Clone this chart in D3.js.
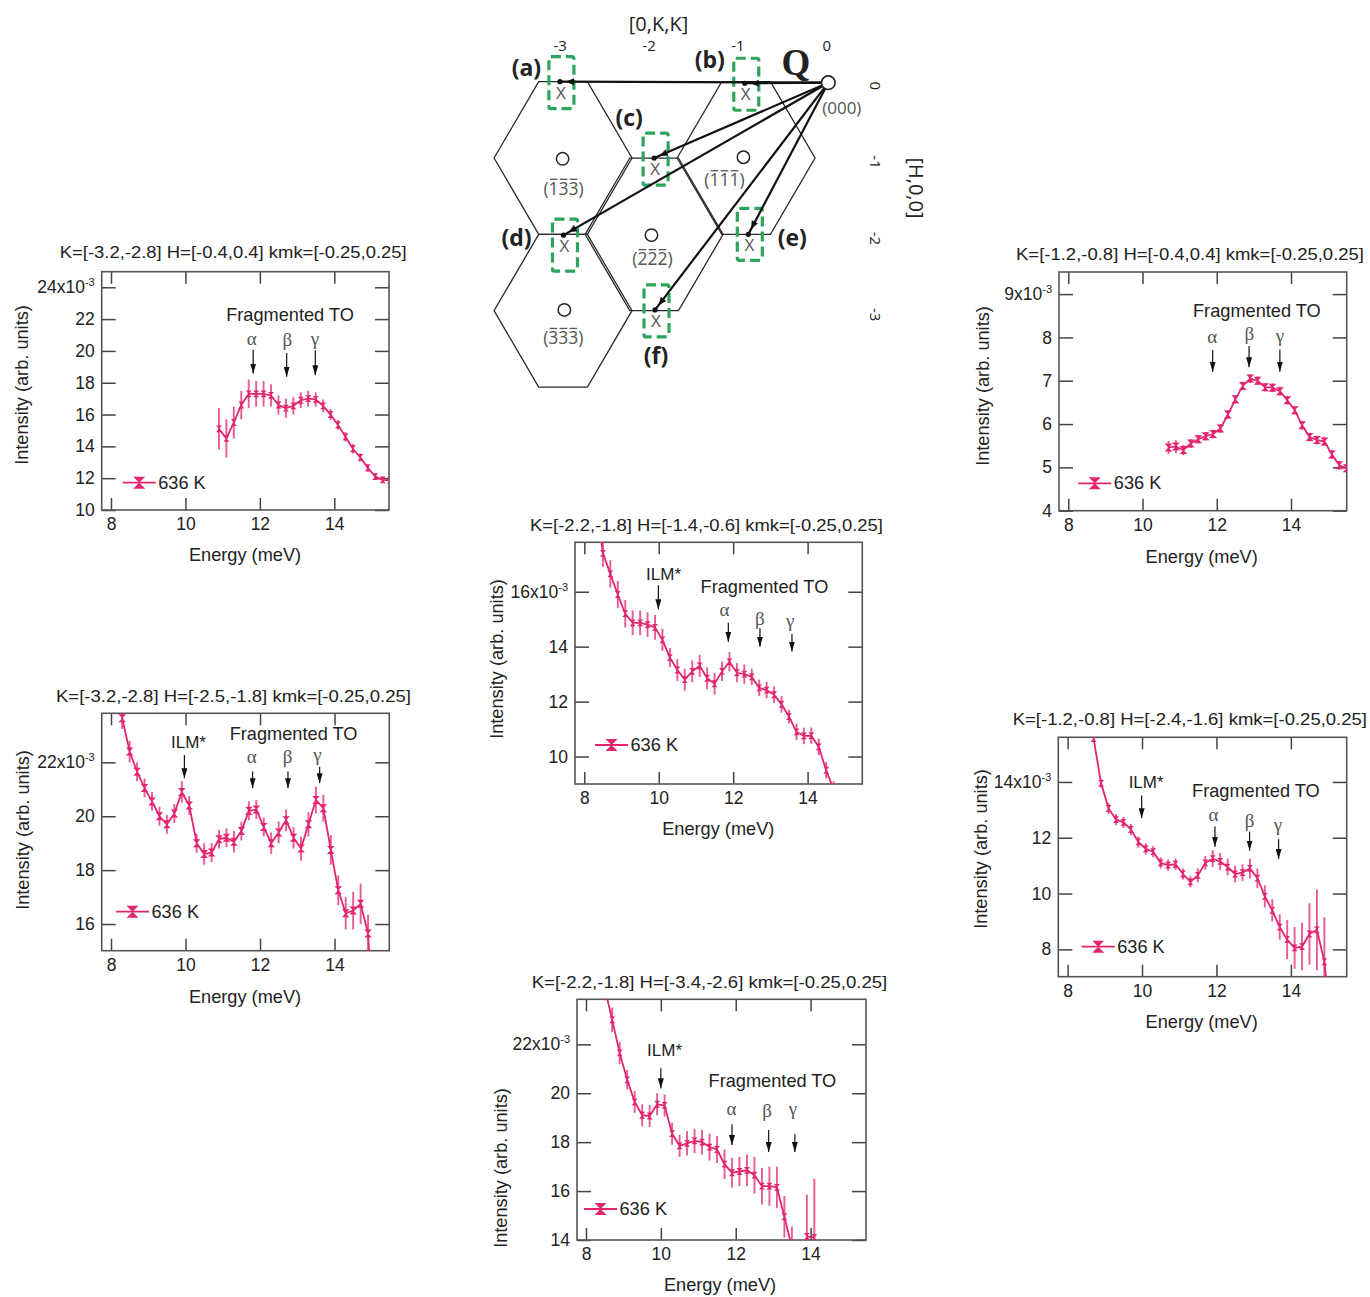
<!DOCTYPE html>
<html>
<head>
<meta charset="utf-8">
<script src="https://cdn.jsdelivr.net/npm/d3@7"></script>
<style>
  body { margin: 0; background: #fff; }
  svg { display: block; font-family: "Liberation Sans", Arial, sans-serif; }
  .tick line { stroke: #444; stroke-width: 1.5; }
  .tick text { fill: #222; font-size: 17.5px; }
  .domain { display: none; }
</style>
</head>
<body>
<div id="chart"></div>
<script>
// values, one set per panel (a)-(f)
const energyA = [10.9, 11.1, 11.3, 11.5, 11.7, 11.9, 12.1, 12.3, 12.5, 12.7, 12.9, 13.1, 13.3, 13.5, 13.7, 13.9, 14.1, 14.3, 14.5, 14.7, 14.9, 15.1, 15.3, 15.5];
const intensityA = [15.1, 14.5, 15.5, 16.6, 17.3, 17.3, 17.3, 17.2, 16.6, 16.4, 16.55, 16.9, 17.0, 16.95, 16.55, 16.0, 15.35, 14.6, 13.85, 13.3, 12.65, 12.1, 11.9, 11.85];
const errorA = [1.3, 1.2, 1.0, 0.9, 0.9, 0.8, 0.8, 0.7, 0.6, 0.6, 0.55, 0.5, 0.5, 0.45, 0.4, 0.35, 0.3, 0.3, 0.3, 0.25, 0.25, 0.2, 0.2, 0.2];

const energyB = [10.7, 10.9, 11.1, 11.3, 11.5, 11.7, 11.9, 12.1, 12.3, 12.5, 12.7, 12.9, 13.1, 13.3, 13.5, 13.7, 13.9, 14.1, 14.3, 14.5, 14.7, 14.9, 15.1, 15.3, 15.5];
const intensityB = [5.46, 5.48, 5.4, 5.55, 5.65, 5.72, 5.77, 5.9, 6.22, 6.57, 6.88, 7.05, 7.0, 6.85, 6.84, 6.76, 6.55, 6.32, 5.97, 5.7, 5.63, 5.6, 5.3, 5.05, 4.98];
const errorB = [0.15, 0.15, 0.12, 0.1, 0.1, 0.1, 0.1, 0.1, 0.1, 0.1, 0.1, 0.1, 0.1, 0.1, 0.1, 0.1, 0.1, 0.1, 0.1, 0.1, 0.1, 0.1, 0.1, 0.1, 0.1];

const energyC = [8.3, 8.5, 8.7, 8.9, 9.1, 9.3, 9.5, 9.7, 9.9, 10.1, 10.3, 10.5, 10.7, 10.9, 11.1, 11.3, 11.5, 11.7, 11.9, 12.1, 12.3, 12.5, 12.7, 12.9, 13.1, 13.3, 13.5, 13.7, 13.9, 14.1, 14.3, 14.5, 14.7];
const intensityC = [19.5, 17.4, 16.65, 15.9, 15.2, 14.87, 14.87, 14.8, 14.7, 14.25, 13.6, 13.15, 12.8, 13.1, 13.3, 12.85, 12.65, 13.1, 13.45, 13.05, 13.0, 12.9, 12.5, 12.42, 12.25, 11.9, 11.45, 10.9, 10.75, 10.76, 10.35, 9.5, 8.8];
const errorC = [0.5, 0.5, 0.5, 0.5, 0.5, 0.45, 0.45, 0.45, 0.45, 0.4, 0.35, 0.4, 0.4, 0.4, 0.4, 0.4, 0.4, 0.35, 0.35, 0.35, 0.35, 0.3, 0.3, 0.3, 0.3, 0.3, 0.25, 0.3, 0.3, 0.3, 0.3, 0.3, 0.3];

const energyD = [8.3, 8.5, 8.7, 8.9, 9.1, 9.3, 9.5, 9.7, 9.9, 10.1, 10.3, 10.5, 10.7, 10.9, 11.1, 11.3, 11.5, 11.7, 11.9, 12.1, 12.3, 12.5, 12.7, 12.9, 13.1, 13.3, 13.5, 13.7, 13.9, 14.1, 14.3, 14.5, 14.7, 14.9, 15.1];
const intensityD = [23.64, 22.4, 21.65, 21.05, 20.55, 20.0, 19.7, 20.1, 20.9, 20.4, 19.0, 18.6, 18.65, 19.15, 19.2, 19.05, 19.45, 20.2, 20.25, 19.6, 19.0, 19.4, 19.85, 19.2, 18.8, 19.7, 20.6, 20.3, 18.75, 17.25, 16.4, 16.5, 16.75, 15.65, 10.7];
const errorD = [0.4, 0.4, 0.35, 0.35, 0.35, 0.35, 0.35, 0.35, 0.4, 0.35, 0.35, 0.4, 0.35, 0.35, 0.35, 0.4, 0.35, 0.35, 0.35, 0.35, 0.4, 0.4, 0.4, 0.4, 0.45, 0.45, 0.5, 0.5, 0.55, 0.55, 0.6, 0.7, 0.75, 0.7, 0.7];

const energyE = [8.7, 8.9, 9.1, 9.3, 9.5, 9.7, 9.9, 10.1, 10.3, 10.5, 10.7, 10.9, 11.1, 11.3, 11.5, 11.7, 11.9, 12.1, 12.3, 12.5, 12.7, 12.9, 13.1, 13.3, 13.5, 13.7, 13.9, 14.1, 14.3, 14.5, 14.7, 14.9, 15.1];
const intensityE = [15.55, 13.95, 13.05, 12.65, 12.55, 12.3, 11.85, 11.6, 11.5, 11.1, 11.02, 11.05, 10.7, 10.42, 10.65, 11.1, 11.25, 11.15, 10.95, 10.7, 10.75, 10.9, 10.55, 9.9, 9.4, 8.8, 8.35, 8.05, 8.1, 8.55, 8.7, 7.55, 5.0];
const errorE = [0.1, 0.15, 0.2, 0.2, 0.2, 0.2, 0.2, 0.2, 0.2, 0.2, 0.2, 0.2, 0.2, 0.2, 0.25, 0.25, 0.3, 0.3, 0.3, 0.3, 0.3, 0.35, 0.35, 0.4, 0.4, 0.45, 0.7, 0.75, 0.85, 1.1, 1.45, 1.6, 1.6];

// 13.7 meV sits below the axis, so the line breaks there
const energyF = [8.5, 8.7, 8.9, 9.1, 9.3, 9.5, 9.7, 9.9, 10.1, 10.3, 10.5, 10.7, 10.9, 11.1, 11.3, 11.5, 11.7, 11.9, 12.1, 12.3, 12.5, 12.7, 12.9, 13.1, 13.3, 13.5, 13.7, 13.9, 14.1];
const intensityF = [24.3, 23.0, 21.65, 20.55, 19.65, 19.1, 19.07, 19.55, 19.5, 18.35, 17.85, 17.95, 18.05, 18.0, 17.8, 17.7, 17.1, 16.75, 16.8, 16.85, 16.65, 16.2, 16.2, 16.15, 14.95, 13.7, null, 14.15, 14.1];
const errorF = [0.5, 0.5, 0.45, 0.4, 0.45, 0.45, 0.45, 0.45, 0.45, 0.45, 0.45, 0.5, 0.5, 0.5, 0.55, 0.55, 0.6, 0.6, 0.6, 0.65, 0.75, 0.75, 0.8, 0.85, 0.85, 0.85, 0, 1.7, 2.4];

const xTicks = [8, 10, 12, 14];
const yTicksA = [10, 12, 14, 16, 18, 20, 22, 24];
const yTicksB = [4, 5, 6, 7, 8, 9];
const yTicksC = [10, 12, 14, 16];
const yTicksD = [16, 18, 20, 22];
const yTicksE = [8, 10, 12, 14];
const yTicksF = [14, 16, 18, 20, 22];

const titleA = "K=[-3.2,-2.8] H=[-0.4,0.4] kmk=[-0.25,0.25]";
const titleB = "K=[-1.2,-0.8] H=[-0.4,0.4] kmk=[-0.25,0.25]";
const titleC = "K=[-2.2,-1.8] H=[-1.4,-0.6] kmk=[-0.25,0.25]";
const titleD = "K=[-3.2,-2.8] H=[-2.5,-1.8] kmk=[-0.25,0.25]";
const titleE = "K=[-1.2,-0.8] H=[-2.4,-1.6] kmk=[-0.25,0.25]";
const titleF = "K=[-2.2,-1.8] H=[-3.4,-2.6] kmk=[-0.25,0.25]";

const PINK = "#e3246f";
const GREEK = { alpha: "\u03b1", beta: "\u03b2", gamma: "\u03b3" };

const svg = d3.select("#chart").append("svg").attr("width", 1370).attr("height", 1297);

svg.append("defs").append("marker")
  .attr("id", "arrowHead")
  .attr("markerUnits", "userSpaceOnUse")
  .attr("viewBox", "0 0 10 6")
  .attr("refX", 10).attr("refY", 3)
  .attr("markerWidth", 10).attr("markerHeight", 6)
  .attr("orient", "auto")
  .append("path").attr("d", "M0,0L10,3L0,6Z").attr("fill", "#111");

// hourglass marker, same as in the legend of the original plots
function hourglass(w, h) {
  return {
    draw(ctx) {
      ctx.moveTo(-w, -h);
      ctx.lineTo(w, -h);
      ctx.lineTo(-w, h);
      ctx.lineTo(w, h);
      ctx.closePath();
    }
  };
}

// frame = left, right, top, bottom; notes are placed in data units
const panels = [
  {
    id: "a", title: titleA, titleBox: [59.7, 347, 258],
    energy: energyA, intensity: intensityA, error: errorA, yTicks: yTicksA,
    frame: [101.7, 389, 271.7, 510], xDom: [7.75, 15.47], yDom: [10, 24.98],
    xLabel: [245, 560.5], yLabel: [28, 385], legend: [122.7, 482.7], mark: [3, 3.4],
    frag: [12.81, 21.86],
    arrows: [["alpha", 11.78, 20.36, 11.82, 20.08, 18.58], ["beta", 12.74, 20.28, 12.72, 19.87, 18.37], ["gamma", 13.48, 20.4, 13.49, 20.04, 18.47]]
  },
  {
    id: "d", title: titleD, titleBox: [56, 355, 701.7],
    energy: energyD, intensity: intensityD, error: errorD, yTicks: yTicksD,
    frame: [101.7, 389.3, 713.3, 950.7], xDom: [7.75, 15.47], yDom: [15.01, 23.82],
    xLabel: [245, 1002.5], yLabel: [29, 830], legend: [116, 911.7], mark: [3.8, 4],
    ilm: [10.08, 22.52, 9.97, 22.27, 21.41], frag: [12.9, 22.83],
    arrows: [["alpha", 11.78, 21.97, 11.8, 21.66, 21.04], ["beta", 12.74, 21.97, 12.75, 21.66, 21.04], ["gamma", 13.54, 22.05, 13.6, 21.84, 21.22]]
  },
  {
    id: "c", title: titleC, titleBox: [530, 353, 530.7],
    energy: energyC, intensity: intensityC, error: errorC, yTicks: yTicksC,
    frame: [575, 862.3, 542.3, 784], xDom: [7.75, 15.47], yDom: [9.0, 17.8],
    xLabel: [718.3, 834.5], yLabel: [503, 659], legend: [595, 745], mark: [3, 3.4],
    ilm: [10.13, 16.42, 9.99, 16.24, 15.36], frag: [12.84, 15.94],
    arrows: [["alpha", 11.77, 15.12, 11.87, 14.87, 14.18], ["beta", 12.72, 14.79, 12.72, 14.67, 14.0], ["gamma", 13.53, 14.7, 13.58, 14.46, 13.82]]
  },
  {
    id: "f", title: titleF, titleBox: [531.7, 355.6, 987.7],
    energy: energyF, intensity: intensityF, error: errorF, yTicks: yTicksF,
    frame: [577, 866, 999.3, 1240], xDom: [7.76, 15.48], yDom: [14, 23.84],
    xLabel: [720, 1291], yLabel: [507, 1168], legend: [584, 1209], mark: [3, 3.4],
    ilm: [10.1, 21.53, 10.0, 21.02, 20.2], frag: [12.98, 20.27],
    arrows: [["alpha", 11.89, 19.1, 11.9, 18.73, 17.88], ["beta", 12.84, 19.04, 12.88, 18.5, 17.6], ["gamma", 13.53, 19.1, 13.58, 18.32, 17.6]]
  },
  {
    id: "b", title: titleB, titleBox: [1016, 348, 260],
    energy: energyB, intensity: intensityB, error: errorB, yTicks: yTicksB,
    frame: [1059, 1346.7, 272, 510.7], xDom: [7.75, 15.5], yDom: [4, 9.51],
    xLabel: [1201.7, 562.5], yLabel: [988.5, 386], legend: [1078.3, 483.3], mark: [4, 4],
    frag: [13.08, 8.46],
    arrows: [["alpha", 11.88, 7.86, 11.89, 7.71, 7.21], ["beta", 12.88, 7.94, 12.87, 7.8, 7.31], ["gamma", 13.7, 7.9, 13.7, 7.72, 7.21]]
  },
  {
    id: "e", title: titleE, titleBox: [1012.7, 354.3, 725],
    energy: energyE, intensity: intensityE, error: errorE, yTicks: yTicksE,
    frame: [1058.3, 1346.7, 737.3, 976.7], xDom: [7.75, 15.5], yDom: [7.02, 15.6],
    xLabel: [1201.7, 1027.5], yLabel: [987, 849], legend: [1081.7, 946.7], mark: [3, 3.4],
    ilm: [10.11, 13.79, 9.99, 13.51, 12.7], frag: [13.06, 13.47],
    arrows: [["alpha", 11.92, 12.6, 11.96, 12.4, 11.68], ["beta", 12.89, 12.4, 12.89, 12.22, 11.54], ["gamma", 13.65, 12.24, 13.67, 11.95, 11.24]]
  }
];

function drawPanel(p) {
  const [left, right, top, bottom] = p.frame;
  const x = d3.scaleLinear().domain(p.xDom).range([left, right]);
  const y = d3.scaleLinear().domain(p.yDom).range([bottom, top]);
  const g = svg.append("g").attr("class", "panel-" + p.id);

  g.append("text")
    .attr("x", p.titleBox[0]).attr("y", p.titleBox[2])
    .attr("textLength", p.titleBox[1]).attr("lengthAdjust", "spacingAndGlyphs")
    .attr("font-size", 17).attr("fill", "#222")
    .text(p.title);

  // ticks point inward on all four sides
  g.append("g").attr("transform", `translate(0,${bottom})`)
    .call(d3.axisBottom(x).tickValues(xTicks).tickSize(-12).tickPadding(8));
  g.append("g").attr("transform", `translate(0,${top})`)
    .call(d3.axisTop(x).tickValues(xTicks).tickSize(-12).tickFormat(""));
  g.append("g").attr("transform", `translate(${right},0)`)
    .call(d3.axisRight(y).tickValues(p.yTicks).tickSize(-14).tickFormat(""));

  const yMax = d3.max(p.yTicks);
  const yAxis = g.append("g").attr("transform", `translate(${left},0)`)
    .call(d3.axisLeft(y).tickValues(p.yTicks).tickSize(-14).tickPadding(7).tickFormat(d => d));
  // the top label carries the common factor
  const topLabel = yAxis.selectAll(".tick text").filter(d => d === yMax);
  topLabel.text(yMax + "x10");
  topLabel.append("tspan").attr("dy", -7).attr("font-size", 11).text("-3");

  g.append("rect")
    .attr("x", left).attr("y", top)
    .attr("width", right - left).attr("height", bottom - top)
    .attr("fill", "none").attr("stroke", "#555").attr("stroke-width", 1.6);

  g.append("text")
    .attr("x", p.xLabel[0]).attr("y", p.xLabel[1])
    .attr("text-anchor", "middle").attr("font-size", 18.2).attr("fill", "#222")
    .text("Energy (meV)");
  g.append("text")
    .attr("transform", `translate(${p.yLabel[0]},${p.yLabel[1]}) rotate(-90)`)
    .attr("text-anchor", "middle").attr("font-size", 18.2).attr("fill", "#222")
    .text("Intensity (arb. units)");

  // data clipped to the frame
  const clipId = "clip-" + p.id;
  g.append("clipPath").attr("id", clipId).append("rect")
    .attr("x", left).attr("y", top)
    .attr("width", right - left).attr("height", bottom - top);
  const marks = g.append("g").attr("clip-path", `url(#${clipId})`);

  const rows = p.energy.map((e, i) => ({ e: e, v: p.intensity[i], err: p.error[i] }));
  const shown = rows.filter(d => d.v !== null);

  marks.selectAll(".err").data(shown).join("line")
    .attr("class", "err")
    .attr("x1", d => x(d.e)).attr("x2", d => x(d.e))
    .attr("y1", d => y(d.v - d.err)).attr("y2", d => y(d.v + d.err))
    .attr("stroke", PINK).attr("stroke-width", 1.9).attr("opacity", 0.75);

  const line = d3.line().defined(d => d.v !== null).x(d => x(d.e)).y(d => y(d.v));
  marks.append("path").attr("d", line(rows))
    .attr("fill", "none").attr("stroke", PINK).attr("stroke-width", 1.8);

  const sym = d3.symbol().type(hourglass(p.mark[0], p.mark[1]))();
  marks.selectAll(".pt").data(shown).join("path")
    .attr("class", "pt").attr("d", sym)
    .attr("transform", d => `translate(${x(d.e)},${y(d.v)})`)
    .attr("fill", PINK);

  // legend
  const [lx, ly] = p.legend;
  g.append("line")
    .attr("x1", lx).attr("x2", lx + 33).attr("y1", ly).attr("y2", ly)
    .attr("stroke", PINK).attr("stroke-width", 1.8);
  g.append("path").attr("d", d3.symbol().type(hourglass(6, 6))())
    .attr("transform", `translate(${lx + 16.5},${ly})`).attr("fill", PINK);
  g.append("text")
    .attr("x", lx + 35.5).attr("y", ly + 6)
    .attr("font-size", 18.2).attr("fill", "#222")
    .text("636 K");

  // annotations
  g.append("text")
    .attr("x", x(p.frag[0])).attr("y", y(p.frag[1]))
    .attr("text-anchor", "middle").attr("font-size", 18.2).attr("fill", "#222")
    .text("Fragmented TO");

  function arrow(ex, v0, v1) {
    g.append("line")
      .attr("x1", x(ex)).attr("x2", x(ex)).attr("y1", y(v0)).attr("y2", y(v1))
      .attr("stroke", "#111").attr("stroke-width", 1.2)
      .attr("marker-end", "url(#arrowHead)");
  }
  if (p.ilm) {
    g.append("text")
      .attr("x", x(p.ilm[0])).attr("y", y(p.ilm[1]))
      .attr("text-anchor", "middle").attr("font-size", 17).attr("fill", "#222")
      .text("ILM*");
    arrow(p.ilm[2], p.ilm[3], p.ilm[4]);
  }
  p.arrows.forEach(a => {
    g.append("text")
      .attr("x", x(a[1])).attr("y", y(a[2]))
      .attr("text-anchor", "middle")
      .attr("font-family", "'Liberation Serif', serif").attr("font-size", 19).attr("fill", "#555")
      .text(GREEK[a[0]]);
    arrow(a[3], a[4], a[5]);
  });
}

panels.forEach(drawPanel);

// ---- zone diagram at the top, drawn in (K,H) through its own scales
const kScale = d3.scaleLinear().domain([-3, 0]).range([561.7, 828.3]);
const hScale = d3.scaleLinear().domain([0, -3]).range([81.7, 310.7]);

const zoneK = [-2.985, -1.96, -0.925, -2.985];
const zoneH = [-1, -2, -1, -3];
const HEX_K = [-0.776, -0.274, 0.274, 0.776, 0.274, -0.274];
const HEX_H = [0, 1, 1, 0, -1, -1];

const gammaK = [-2.99, -0.955, -1.99, -2.97];
const gammaH = [-1.01, -0.99, -2.01, -2.99];
const gammaLabels = ["(133)", "(111)", "(222)", "(333)"];
const gammaLabelDx = [0, -20, 0, -2];
const gammaLabelDy = [36, 29, 30, 34];

const spotNames = ["(a)", "(b)", "(c)", "(d)", "(e)", "(f)"];
const spotK = [-3.02, -0.94, -1.96, -2.98, -0.9, -1.95];
const spotH = [0, -0.02, -1.0, -2.01, -2.0, -2.99];
const boxDy = [0, 0, 0, 9, -1, 0];
const kTickValues = [-3, -2, -1, 0];
const hTickValues = [0, -1, -2, -3];

const diagram = svg.append("g").attr("font-family", "'Open Sans', sans-serif");

zoneK.forEach((k, i) => {
  const pts = HEX_K.map((dk, j) => [kScale(k + dk), hScale(zoneH[i] + HEX_H[j])]);
  diagram.append("path")
    .attr("d", d3.line()(pts) + "Z")
    .attr("fill", "none").attr("stroke", "#2a2a2a").attr("stroke-width", 1.3);
});

// green dashed boxes around the measured spots
spotK.forEach((k, i) => {
  const cx = kScale(k), cy = hScale(spotH[i]);
  diagram.append("rect")
    .attr("x", cx - 11).attr("y", cy - 25 + boxDy[i])
    .attr("width", 25).attr("height", 52).attr("rx", 2)
    .attr("fill", "none").attr("stroke", "#2ea35c").attr("stroke-width", 3.2)
    .attr("stroke-dasharray", "10 5");
  diagram.append("text")
    .attr("x", cx + 1).attr("y", cy + 17)
    .attr("text-anchor", "middle").attr("font-size", 17).attr("fill", "#555")
    .text("X");
});

// Q vectors from the origin
const ox = kScale(0), oy = hScale(0) + 1;
spotK.forEach((k, i) => {
  const tx = kScale(k), ty = hScale(spotH[i]);
  const len = Math.hypot(tx - ox, ty - oy);
  const ux = (tx - ox) / len, uy = (ty - oy) / len;
  diagram.append("line")
    .attr("x1", ox).attr("y1", oy).attr("x2", tx).attr("y2", ty)
    .attr("stroke", "#111").attr("stroke-width", 2.2);
  diagram.append("circle").attr("cx", tx).attr("cy", ty).attr("r", 2.6).attr("fill", "#111");
  // small head a bit before the end of the vector
  const hx = tx - ux * 6, hy = ty - uy * 6;
  diagram.append("path")
    .attr("d", `M${hx},${hy}L${hx - ux * 8 - uy * 3.5},${hy - uy * 8 + ux * 3.5}L${hx - ux * 8 + uy * 3.5},${hy - uy * 8 - ux * 3.5}Z`)
    .attr("fill", "#111");
});

diagram.selectAll(".gamma").data(gammaK).join("circle")
  .attr("class", "gamma")
  .attr("cx", d => kScale(d)).attr("cy", (d, i) => hScale(gammaH[i]))
  .attr("r", 6.2)
  .attr("fill", "#fff").attr("stroke", "#222").attr("stroke-width", 1.5);
diagram.selectAll(".gammaLabel").data(gammaLabels).join("text")
  .attr("class", "gammaLabel")
  .attr("x", (d, i) => kScale(gammaK[i]) + 1 + gammaLabelDx[i])
  .attr("y", (d, i) => hScale(gammaH[i]) + gammaLabelDy[i])
  .attr("text-anchor", "middle").attr("font-size", 17.5).attr("fill", "#555")
  .text(d => d)
  .each(function (d, i) {
    // a bar over each digit, measured from the rendered text
    const baseline = hScale(gammaH[i]) + gammaLabelDy[i];
    for (let c = 1; c <= 3; c++) {
      const box = this.getExtentOfChar(c);
      diagram.append("line")
        .attr("x1", box.x + 1.2).attr("x2", box.x + box.width - 1.2)
        .attr("y1", baseline - 15.5).attr("y2", baseline - 15.5)
        .attr("stroke", "#555").attr("stroke-width", 1.3);
    }
  });

diagram.append("circle")
  .attr("cx", ox).attr("cy", oy).attr("r", 6.8)
  .attr("fill", "#fff").attr("stroke", "#222").attr("stroke-width", 1.6);
diagram.append("text")
  .attr("x", ox + 13.5).attr("y", 114)
  .attr("text-anchor", "middle").attr("font-size", 17).attr("fill", "#555")
  .text("(000)");

// panel letters sit next to their spots
const letterDx = [-33.5, -35, -25, -47, 44, 1];
const letterDy = [-6, -15, -32, 11, 12, 54];
spotNames.forEach((name, i) => {
  diagram.append("text")
    .attr("x", kScale(spotK[i]) + letterDx[i]).attr("y", hScale(spotH[i]) + letterDy[i])
    .attr("text-anchor", "middle").attr("font-size", 23).attr("font-weight", "bold").attr("fill", "#222")
    .text(name);
});

diagram.append("text")
  .attr("x", 796).attr("y", 75)
  .attr("text-anchor", "middle")
  .attr("font-family", "'Liberation Serif', serif").attr("font-weight", "bold").attr("font-size", 37).attr("fill", "#222")
  .text("Q");

diagram.append("text")
  .attr("x", 658.5).attr("y", 31)
  .attr("text-anchor", "middle").attr("font-size", 20).attr("fill", "#222")
  .text("[0,K,K]");
diagram.selectAll(".kTick").data(kTickValues).join("text")
  .attr("class", "kTick")
  .attr("x", d => kScale(d) - 1.5).attr("y", 50.5)
  .attr("text-anchor", "middle").attr("font-size", 15).attr("fill", "#222")
  .text(d => d);
diagram.selectAll(".hTick").data(hTickValues).join("text")
  .attr("class", "hTick")
  .attr("transform", d => `translate(870,${hScale(d) + 4}) rotate(90)`)
  .attr("text-anchor", "middle").attr("font-size", 15).attr("fill", "#222")
  .text(d => d);
diagram.append("text")
  .attr("transform", "translate(909,188) rotate(90)")
  .attr("text-anchor", "middle").attr("font-size", 20).attr("fill", "#222")
  .text("[H,0,0]");
</script>
</body>
</html>
